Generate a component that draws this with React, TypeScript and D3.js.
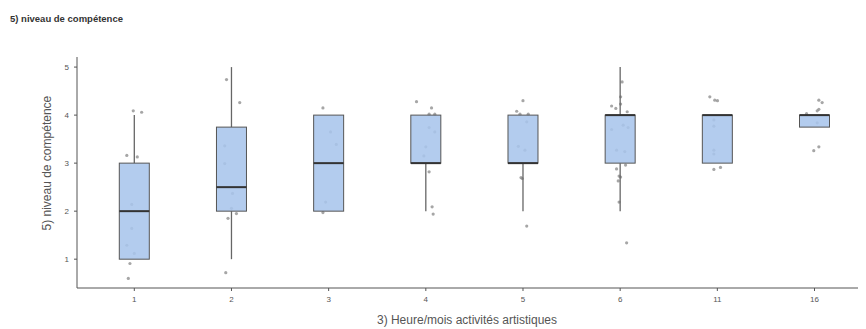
import React, { useRef, useEffect } from "react";
import * as d3 from "d3";

const categories = ["1", "2", "3", "4", "5", "6", "11", "16"];
const whiskerLow = [1, 1, 2, 2, 2, 2, 3, 3.75];
const q1 = [1, 2, 2, 3, 3, 3, 3, 3.75];
const medians = [2, 2.5, 3, 3, 3, 4, 4, 4];
const q3 = [3, 3.75, 4, 4, 4, 4, 4, 4];
const whiskerHigh = [4, 5, 4, 4, 4, 5, 4, 4];
const yTicks = [1, 2, 3, 4, 5];

// observed values per category, with horizontal jitter (fraction of half box width)
const points: [string, number, number][] = [
  ["1", 4.09, -0.07], ["1", 4.06, 0.49], ["1", 3.16, -0.5], ["1", 3.13, 0.2], ["1", 2.14, -0.17],
  ["1", 1.64, -0.17], ["1", 1.29, -0.5], ["1", 1.12, 0], ["1", 0.91, -0.29], ["1", 0.6, -0.4],
  ["2", 4.74, -0.33], ["2", 4.26, 0.55], ["2", 3.36, -0.45], ["2", 2.99, -0.45], ["2", 2.37, 0.07],
  ["2", 2.06, 0], ["2", 1.85, -0.23], ["2", 1.95, 0.33], ["2", 0.72, -0.38],
  ["3", 4.15, -0.38], ["3", 3.65, 0.13], ["3", 3.39, 0.51], ["3", 2.19, -0.2], ["3", 1.97, -0.38],
  ["4", 4.28, -0.62], ["4", 4.15, 0.38], ["4", 4.02, 0.22], ["4", 4.02, 0.6], ["4", 3.74, 0.22],
  ["4", 3.65, 0.6], ["4", 3.34, 0], ["4", 3.15, -0.13], ["4", 2.82, 0.22], ["4", 2.09, 0.42], ["4", 1.94, 0.49],
  ["5", 4.3, 0], ["5", 4.08, -0.42], ["5", 4.02, -0.2], ["5", 4.02, 0.35], ["5", 3.86, 0.25],
  ["5", 3.35, -0.31], ["5", 3.27, 0.13], ["5", 2.7, -0.13], ["5", 2.68, -0.05], ["5", 1.69, 0.25],
  ["6", 4.69, 0.13], ["6", 4.38, 0.03], ["6", 4.23, 0.03], ["6", 4.19, -0.57], ["6", 4.14, -0.29],
  ["6", 4.07, 0.47], ["6", 3.79, 0.2], ["6", 3.7, -0.57], ["6", 3.74, 0.53], ["6", 3.27, -0.24],
  ["6", 3.24, 0.31], ["6", 2.96, 0.36], ["6", 2.88, -0.24], ["6", 2.73, -0.07], ["6", 2.71, 0.03],
  ["6", 2.63, -0.13], ["6", 2.19, -0.07], ["6", 1.34, 0.43],
  ["11", 4.38, -0.5], ["11", 4.31, -0.17], ["11", 4.3, 0.01], ["11", 3.9, -0.23], ["11", 3.77, -0.23],
  ["11", 3.27, -0.23], ["11", 3.19, -0.23], ["11", 2.87, -0.23], ["11", 2.91, 0.21],
  ["16", 4.31, 0.29], ["16", 4.26, 0.51], ["16", 4.09, 0.18], ["16", 4.12, 0.29], ["16", 4.03, -0.53],
  ["16", 3.84, 0.18], ["16", 3.34, 0.29], ["16", 3.26, -0.05],
];

const W = 866, H = 329;
const FONT = "'Liberation Sans', Arial, sans-serif";

export default function App() {
  const svgRef = useRef<SVGSVGElement>(null);

  useEffect(() => {
    const svg = d3.select(svgRef.current);
    svg.selectAll("*").remove();

    const axisX = 77, axisY = 288;
    const x = d3.scalePoint<string>().domain(categories).range([134.3, 814.5]);
    const y = d3.scaleLinear().domain([0.4, 5.21]).range([axisY, 57]);
    const half = 15;

    // title
    svg.append("text").attr("x", 10).attr("y", 22)
      .attr("font-family", FONT).attr("font-size", 9.5).attr("font-weight", "bold")
      .attr("fill", "#333").text("5) niveau de compétence");

    // axes
    svg.append("line").attr("x1", axisX).attr("x2", axisX).attr("y1", 57).attr("y2", axisY)
      .attr("stroke", "#555").attr("stroke-width", 1);
    svg.append("line").attr("x1", axisX).attr("x2", W).attr("y1", axisY).attr("y2", axisY)
      .attr("stroke", "#555").attr("stroke-width", 1);

    const yt = svg.append("g");
    yt.selectAll("line").data(yTicks).join("line")
      .attr("x1", axisX - 3).attr("x2", axisX).attr("y1", d => y(d)).attr("y2", d => y(d))
      .attr("stroke", "#555");
    yt.selectAll("text").data(yTicks).join("text")
      .attr("x", axisX - 8).attr("y", d => y(d) + 3).attr("text-anchor", "end")
      .attr("font-family", FONT).attr("font-size", 8).attr("fill", "#555").text(d => d);

    const xt = svg.append("g");
    xt.selectAll("line").data(categories).join("line")
      .attr("x1", d => x(d)!).attr("x2", d => x(d)!).attr("y1", axisY).attr("y2", axisY + 3)
      .attr("stroke", "#555");
    xt.selectAll("text").data(categories).join("text")
      .attr("x", d => x(d)!).attr("y", axisY + 14).attr("text-anchor", "middle")
      .attr("font-family", FONT).attr("font-size", 8).attr("fill", "#555").text(d => d);

    // axis titles
    svg.append("text").attr("transform", `translate(51,${y(3)}) rotate(-90)`)
      .attr("text-anchor", "middle").attr("font-family", FONT).attr("font-size", 12)
      .attr("fill", "#555").text("5) niveau de compétence");
    svg.append("text").attr("x", 467).attr("y", 324).attr("text-anchor", "middle")
      .attr("font-family", FONT).attr("font-size", 12).attr("fill", "#555")
      .text("3) Heure/mois activités artistiques");

    // points (underneath boxes)
    svg.append("g").selectAll("circle").data(points).join("circle")
      .attr("cx", d => x(d[0])! + d[2] * half).attr("cy", d => y(d[1]))
      .attr("r", 1.6).attr("fill", "#888").attr("opacity", 0.75);

    const g = svg.append("g");
    categories.forEach((c, i) => {
      const cx = x(c)!;
      if (whiskerHigh[i] > q3[i]) {
        g.append("line").attr("x1", cx).attr("x2", cx)
          .attr("y1", y(q3[i])).attr("y2", y(whiskerHigh[i]))
          .attr("stroke", "#666").attr("stroke-width", 1.3);
      }
      if (whiskerLow[i] < q1[i]) {
        g.append("line").attr("x1", cx).attr("x2", cx)
          .attr("y1", y(whiskerLow[i])).attr("y2", y(q1[i]))
          .attr("stroke", "#666").attr("stroke-width", 1.3);
      }
      g.append("rect").attr("x", cx - half).attr("width", half * 2)
        .attr("y", y(q3[i])).attr("height", Math.max(y(q1[i]) - y(q3[i]), 0.5))
        .attr("fill", "#a9c5ec").attr("fill-opacity", 0.88)
        .attr("stroke", "#555").attr("stroke-width", 1);
      g.append("line").attr("x1", cx - half).attr("x2", cx + half)
        .attr("y1", y(medians[i])).attr("y2", y(medians[i]))
        .attr("stroke", "#333").attr("stroke-width", 2);
    });
  }, []);

  return (
    <div style={{ marginTop: -8, marginLeft: -8 }}>
      <svg ref={svgRef} width={W} height={H} style={{ display: "block", background: "#fff" }}></svg>
    </div>
  );
}
